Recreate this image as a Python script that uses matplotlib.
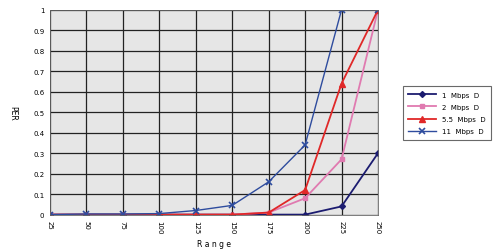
import matplotlib
matplotlib.use('Agg')
import matplotlib.pyplot as plt

# データ
ranges = [25, 50, 75, 100, 125, 150, 175, 200, 225, 250]
per_1 = [0, 0, 0, 0, 0, 0, 0, 0, 0.04, 0.30]
per_2 = [0, 0, 0, 0, 0, 0, 0.01, 0.08, 0.27, 1.0]
per_55 = [0, 0, 0, 0, 0, 0, 0.01, 0.12, 0.64, 1.0]
per_11 = [0, 0.003, 0.003, 0.005, 0.02, 0.045, 0.16, 0.34, 1.0, 1.0]
labels = ['1  Mbps  D', '2  Mbps  D', '5.5  Mbps  D', '11  Mbps  D']

fig = plt.figure(figsize=(5, 2.51), dpi=100)
ax = fig.add_axes([0.1, 0.141, 0.656, 0.816])
ax.set_facecolor('#e6e6e6')

ax.plot(ranges, per_1, color='#1c1c70', marker='D', ms=3, lw=1.3, label=labels[0])
ax.plot(ranges, per_2, color='#e07ab0', marker='s', ms=3.5, lw=1.3, label=labels[1])
ax.plot(ranges, per_55, color='#e02828', marker='^', ms=4, lw=1.3, label=labels[2])
ax.plot(ranges, per_11, color='#2e4c9e', marker='x', ms=4, mew=1.2, lw=1.0, label=labels[3])

ax.set_xlim(25, 250)
ax.set_ylim(0, 1)
ax.set_xticks(ranges)
ax.set_xticklabels([str(r) for r in ranges], rotation=270, fontsize=5)
ax.set_yticks([i / 10 for i in range(11)])
ax.set_yticklabels(['0'] + ['0.%d' % i for i in range(1, 10)] + ['1'], fontsize=5)
ax.grid(True, color='#222222', lw=0.9)
ax.set_axisbelow(True)
ax.tick_params(length=0, pad=4)
for s in ax.spines.values():
    s.set_color('#666666')
    s.set_linewidth(0.6)

ax.set_xlabel('R a n g e', fontsize=5.5, labelpad=4)
ax.set_ylabel('PER', fontsize=5.5, rotation=270, labelpad=18)

leg = ax.legend(loc='upper left', bbox_to_anchor=(1.065, 0.645), fontsize=5,
                frameon=True, fancybox=False, edgecolor='#444444',
                handlelength=4, borderpad=0.8, labelspacing=0.9)
leg.get_frame().set_linewidth(0.8)

plt.savefig('out.png', dpi=100)
